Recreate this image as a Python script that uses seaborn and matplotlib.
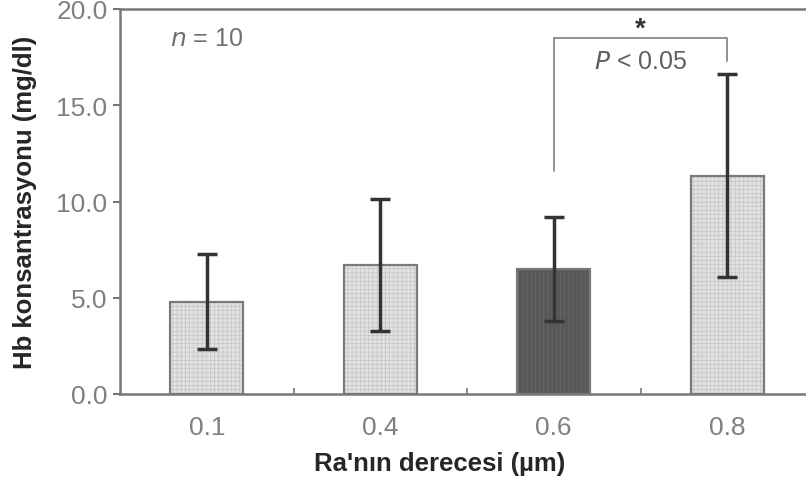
import pandas as pd
import matplotlib.pyplot as plt
import seaborn as sns

# Data
ra_levels = ["0.1", "0.4", "0.6", "0.8"]
hb_mean = [4.8, 6.7, 6.5, 11.35]
hb_sd = [2.45, 3.45, 2.7, 5.25]
bar_colors = ["#e2e2e2", "#e2e2e2", "#585858", "#e2e2e2"]
hatch_colors = ["#c4c4c4", "#c4c4c4", "#686868", "#c4c4c4"]
hatches = ["++++", "++++", "||||", "++++"]

df = pd.DataFrame({"Ra": ra_levels, "Hb": hb_mean})

sns.set_style("ticks")
plt.rcParams['font.family'] = ['Liberation Sans', 'DejaVu Sans']
plt.rcParams['hatch.linewidth'] = 0.5

fig = plt.figure(figsize=(8.06, 4.85), dpi=100)
ax = fig.add_axes([120 / 806, 90 / 485, 694 / 806, 385 / 485])

# hatched fill
sns.barplot(data=df, x="Ra", y="Hb", hue="Ra", palette=bar_colors, legend=False,
            width=0.42, errorbar=None, ax=ax, linewidth=0.5)
for p, hc, h in zip(ax.patches, hatch_colors, hatches):
    p.set_edgecolor(hc)
    p.set_hatch(h)
# outline
sns.barplot(data=df, x="Ra", y="Hb", fill=False, color="#7a7a7a", width=0.42,
            errorbar=None, ax=ax, linewidth=1.6)

ax.errorbar(range(len(ra_levels)), hb_mean, yerr=hb_sd, fmt="none",
            ecolor="#333333", elinewidth=2.5, capsize=7, capthick=2.5, zorder=5)

ax.set_ylim(0, 20)
ax.set_xlim(-0.5, 3.5)
ax.set_yticks([0, 5, 10, 15, 20])
ax.set_yticklabels(["0.0", "5.0", "10.0", "15.0", "20.0"])
ax.set_xticks([0.5, 1.5, 2.5], minor=True)
ax.tick_params(axis="x", which="major", length=0, pad=15, labelsize=19, labelcolor="#808080")
ax.tick_params(axis="x", which="minor", direction="in", length=4, width=1.2, color="#777777")
ax.tick_params(axis="y", length=5, width=1.5, color="#777777", labelsize=19,
               labelcolor="#808080", pad=4)
for s in ["left", "bottom", "top", "right"]:
    ax.spines[s].set_color("#777777")
    ax.spines[s].set_linewidth(1.8)

ax.set_xlabel("Ra'nın derecesi (µm)", fontsize=18.5, fontweight="bold")
ax.xaxis.set_label_coords(0.461, -0.148)
ax.set_ylabel("Hb konsantrasyonu (mg/dl)", fontsize=18.5, fontweight="bold", labelpad=14)

# annotations
ax.text(0.0, 18.5, "$n$ = 10", fontsize=18, color="#707070", ha="center", va="center")
ax.plot([2, 2, 3, 3], [11.6, 18.5, 18.5, 17.3], color="#888888", lw=1.3)
ax.text(2.5, 19.0, "*", fontsize=20, fontweight="bold", ha="center", va="center",
        color="#333333")
ax.text(2.5, 17.3, "$P$ < 0.05", fontsize=18, ha="center", va="center", color="#606060")

fig.savefig("out.png", dpi=100)
